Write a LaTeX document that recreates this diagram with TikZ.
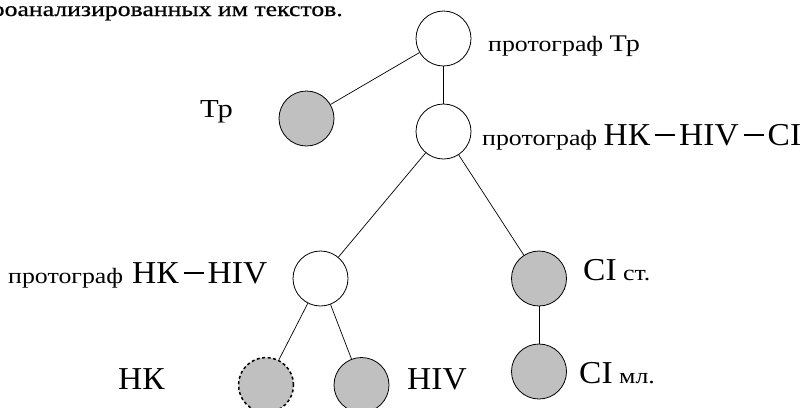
\documentclass[tikz,border=0pt]{standalone}
\usepackage{fontspec}
\setmainfont{Liberation Serif}
\newfontfamily\smallfam[FakeStretch=1.18]{Liberation Serif}
\newfontfamily\largefam[FakeStretch=1.05]{Liberation Serif}
\newfontfamily\capfam[FakeStretch=1.23,FakeBold=0.6]{Liberation Serif}
\definecolor{nodegray}{HTML}{C0C0C0}
\newcommand\lgtxt{\largefam\fontsize{32}{32}\selectfont}
\newcommand\smtxt{\smallfam\fontsize{22}{22}\selectfont}
\newcommand\mdtxt{\smallfam\fontsize{24}{24}\selectfont}
\newcommand\mydash{\kern5bp\rule[9.5bp]{20bp}{1.4bp}\kern4bp}
\begin{document}
\begin{tikzpicture}[x=1bp,y=-1bp,
  circ/.style={circle, draw=black, line width=0.8bp, minimum size=55bp, inner sep=0pt},
  wnode/.style={circ, fill=white},
  gnode/.style={circ, fill=nodegray},
  dnode/.style={circ, fill=nodegray, dash pattern=on 3bp off 2.5bp, line width=1.5bp},
  edge/.style={draw=black, line width=0.7bp},
  lbl/.style={anchor=base west, inner sep=0pt, font=\smtxt},
  blbl/.style={anchor=base west, inner sep=0pt, font=\lgtxt}]
\useasboundingbox (0,0) rectangle (802,407);
\clip (0,0) rectangle (802,407);
% nodes
\node[wnode] (top) at (443.5,38.5) {};
\node[wnode] (mid) at (443.5,131.5) {};
\node[gnode] (trho) at (306.5,118.5) {};
\node[wnode] (hkhiv) at (320.5,278.5) {};
\node[gnode] (cist) at (539,278.5) {};
\node[gnode] (ciml) at (539,371.5) {};
\node[dnode] (hk) at (266,385) {};
\node[gnode] (hiv) at (361.5,385) {};
% edges
\draw[edge] (top) -- (trho);
\draw[edge] (top) -- (mid);
\draw[edge] (mid) -- (hkhiv);
\draw[edge] (mid) -- (cist);
\draw[edge] (hkhiv) -- (hk);
\draw[edge] (hkhiv) -- (hiv);
\draw[edge] (cist) -- (ciml);
% labels
\node[anchor=base east, inner sep=0pt, font=\capfam\fontsize{21}{21}\selectfont] (caption) at (343,16) {проанализированных им текстов.};
\node[lbl] (ltop) at (488,51) {протограф {\mdtxt Тр}};
\node[lbl] (lmid) at (482,145) {протограф {\lgtxt НК\mydash HIV\mydash CI}};
\node[lbl] (ltrho) at (200,117) {{\smallfam\fontsize{26}{26}\selectfont Тр}};
\node[lbl] (lhkhiv) at (8,283) {протограф\hspace{9bp}{\lgtxt НК\mydash HIV}};
\node[blbl] (lhk) at (118,389) {НК};
\node[blbl] (lhiv) at (407,389) {HIV};
\node[lbl] (lcist) at (583,280) {{\lgtxt CI} ст.};
\node[lbl] (lciml) at (579,383) {{\lgtxt CI} мл.};
\end{tikzpicture}
\end{document}
